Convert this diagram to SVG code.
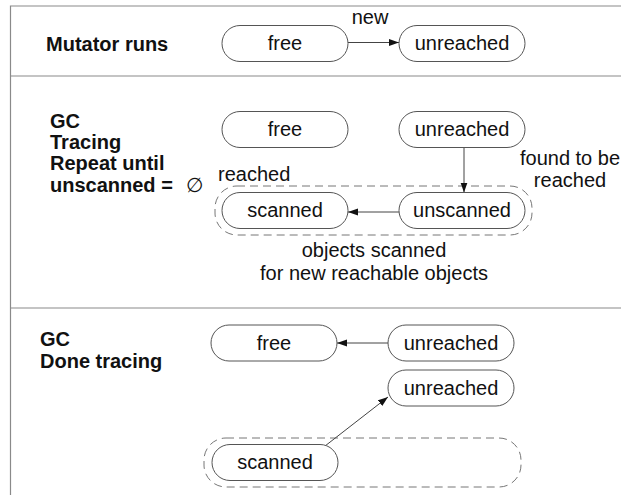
<svg xmlns="http://www.w3.org/2000/svg" width="621" height="495" viewBox="0 0 621 495">
<style>
  .frame { stroke: #8a8a8a; stroke-width: 1.2; fill: none; }
  .pill { fill: #fff; stroke: #555; stroke-width: 1; }
  .group { fill: none; stroke: #777; stroke-width: 1; stroke-dasharray: 8 5; }
  .t { font-family: "Liberation Sans", Arial, sans-serif; font-size: 20px; fill: #111; }
  .c { text-anchor: middle; }
  .b { font-weight: bold; }
  .edge { stroke: #444; stroke-width: 1; fill: none; marker-end: url(#arr); }
</style>
<defs>
  <marker id="arr" markerUnits="userSpaceOnUse" markerWidth="11" markerHeight="8" refX="10" refY="3.5" orient="auto">
    <path d="M0,0 L10,3.5 L0,7 z" fill="#111"/>
  </marker>
</defs>
<rect width="621" height="495" fill="#fff"/>

<g id="frame">
  <path class="frame" d="M621,6 L10.5,6 L10.5,495 M10.5,76 L621,76 M10.5,308 L621,308"/>
</g>

<g id="section-labels">
  <text class="t b" x="46" y="51">Mutator runs</text>
  <text class="t b" x="50" y="128">GC</text>
  <text class="t b" x="50" y="149">Tracing</text>
  <text class="t b" x="50" y="170">Repeat until</text>
  <text class="t b" x="50" y="192">unscanned =</text>
  <text class="t" x="186" y="192">∅</text>
  <text class="t b" x="40" y="346">GC</text>
  <text class="t b" x="40" y="368">Done tracing</text>
</g>

<g id="groups">
  <rect class="group" x="215" y="186" width="317" height="49" rx="22"/>
  <rect class="group" x="204" y="438" width="317" height="49" rx="22"/>
</g>

<g id="connectors">
  <line class="edge" x1="348" y1="42.5" x2="399" y2="42.5"/>
  <line class="edge" x1="464" y1="147.5" x2="464" y2="192.5"/>
  <line class="edge" x1="399" y1="212" x2="348" y2="212"/>
  <line class="edge" x1="388" y1="343" x2="337" y2="343"/>
  <line class="edge" x1="325" y1="446" x2="388" y2="397"/>
</g>

<g id="labels">
  <text class="t c" x="370" y="24">new</text>
  <text class="t" x="218" y="181">reached</text>
  <text class="t c" x="570" y="165">found to be</text>
  <text class="t c" x="570" y="187">reached</text>
  <text class="t c" x="374" y="257">objects scanned</text>
  <text class="t c" x="374" y="280">for new reachable objects</text>
</g>

<g id="s1-free">
  <rect class="pill" x="222" y="25.5" width="126" height="36" rx="18"/>
  <text class="t c" x="285" y="50">free</text>
</g>
<g id="s1-unreached">
  <rect class="pill" x="399" y="25.5" width="126" height="36" rx="18"/>
  <text class="t c" x="462" y="50">unreached</text>
</g>

<g id="s2-free">
  <rect class="pill" x="222" y="111.5" width="126" height="36" rx="18"/>
  <text class="t c" x="285" y="136">free</text>
</g>
<g id="s2-unreached">
  <rect class="pill" x="399" y="111.5" width="126" height="36" rx="18"/>
  <text class="t c" x="462" y="136">unreached</text>
</g>
<g id="s2-scanned">
  <rect class="pill" x="222" y="192.5" width="126" height="36" rx="18"/>
  <text class="t c" x="285" y="217">scanned</text>
</g>
<g id="s2-unscanned">
  <rect class="pill" x="399" y="192.5" width="126" height="36" rx="18"/>
  <text class="t c" x="462" y="217">unscanned</text>
</g>

<g id="s3-free">
  <rect class="pill" x="211" y="325" width="126" height="36" rx="18"/>
  <text class="t c" x="274" y="350">free</text>
</g>
<g id="s3-unreached">
  <rect class="pill" x="388" y="325" width="126" height="36" rx="18"/>
  <text class="t c" x="451" y="350">unreached</text>
</g>
<g id="s3-unreached2">
  <rect class="pill" x="388" y="370" width="126" height="36" rx="18"/>
  <text class="t c" x="451" y="395">unreached</text>
</g>
<g id="s3-scanned">
  <rect class="pill" x="212" y="444.5" width="126" height="36" rx="18"/>
  <text class="t c" x="275" y="469">scanned</text>
</g>
</svg>
